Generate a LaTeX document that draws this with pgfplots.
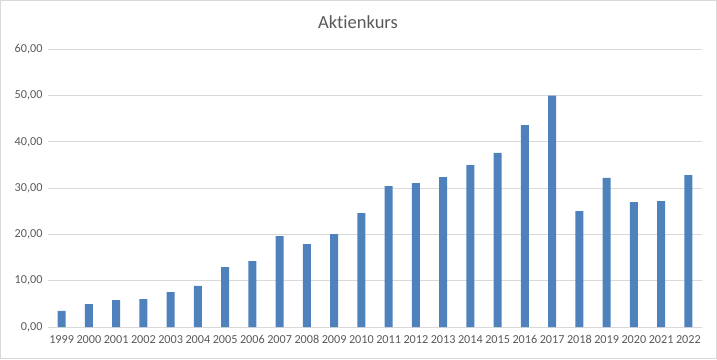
\documentclass[border=0pt]{standalone}
\usepackage{pgfplots}
\pgfplotsset{compat=1.18}
\usepackage{fontspec}
\setmainfont{Carlito}[Ligatures=NoCommon]
\definecolor{barblue}{HTML}{4F81BD}
\definecolor{txtgray}{HTML}{595959}
\definecolor{gridgray}{HTML}{D9D9D9}
\begin{document}
\begin{tikzpicture}[x=1bp,y=1bp]
\useasboundingbox (0,0) rectangle (717,359);
\draw[gridgray, line width=0.8bp] (0.5,0.5) rectangle (716.5,358.5);
\node[txtgray, font=\fontsize{18.5bp}{20bp}\selectfont] at (358,337) {Aktienkurs};
\begin{axis}[
  at={(48bp,32bp)}, anchor=south west,
  scale only axis, width=654bp, height=277.7bp,
  xmin=-0.5, xmax=23.5, ymin=0, ymax=60,
  ytick={0,10,...,60},
  xtick={0,...,23},
  xticklabels={1999,2000,2001,2002,2003,2004,2005,2006,2007,2008,2009,2010,2011,2012,2013,2014,2015,2016,2017,2018,2019,2020,2021,2022},
  ymajorgrids, major grid style={gridgray, line width=0.8bp},
  axis line style={draw=none},
  axis x line*=bottom, axis y line*=left,
  x axis line style={draw=gridgray, line width=0.8bp},
  major tick length=0pt,
  tick label style={txtgray, font=\fontsize{12.2bp}{13bp}\selectfont},
  /pgf/number format/assume math mode=true,
  yticklabel={\pgfmathprintnumber[fixed, fixed zerofill, precision=2, use comma]{\tick}},
  yticklabel style={xshift=-2bp},
  xticklabel style={yshift=-5bp},
  ybar, bar width=8bp,
]
\addplot[fill=barblue, draw=none] coordinates {
(0,3.46) (1,4.97) (2,5.83) (3,6.05) (4,7.56) (5,8.86) (6,12.96) (7,14.25)
(8,19.65) (9,17.93) (10,20.09) (11,24.6) (12,30.45) (13,31.1) (14,32.4)
(15,35.0) (16,37.6) (17,43.6) (18,50.0) (19,25.05) (20,32.2) (21,27.0)
(22,27.2) (23,32.8)};
\end{axis}
\end{tikzpicture}
\end{document}
